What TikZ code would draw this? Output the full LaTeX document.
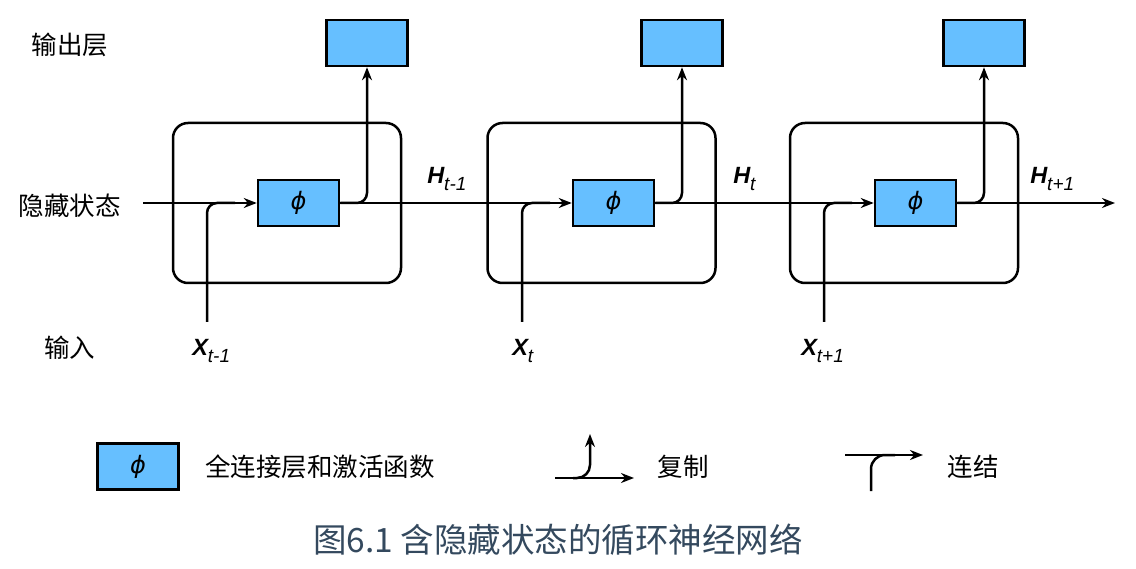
\documentclass[tikz,border=0pt]{standalone}
\usepackage{fontspec}
\usetikzlibrary{arrows.meta}
\newfontfamily\cjk{Noto Sans CJK SC}
\newfontfamily\ar{Liberation Sans}
\newfontfamily\djvfont{DejaVu Sans}
\definecolor{phiblue}{RGB}{102,191,255}
\definecolor{capcol}{RGB}{52,73,94}
\newcommand{\varlab}[2]{{\ar\bfseries\itshape\fontsize{23.5}{23.5}\selectfont #1}\raisebox{-7pt}{\ar\itshape\fontsize{19}{19}\selectfont #2}}
\newcommand{\phisym}{{\djvfont\itshape\fontsize{24}{24}\selectfont ϕ}}
\begin{document}
\begin{tikzpicture}[x=1pt,y=-1pt,line width=2.5pt,
  >={Stealth[length=13pt,width=10pt]},
  cell/.style={draw,rounded corners=15pt,line width=2.5pt,minimum width=228pt,minimum height=160pt,inner sep=0},
  phibox/.style={draw,fill=phiblue,minimum width=81pt,minimum height=46pt,inner sep=0,line width=2.5pt},
  cjklbl/.style={font=\cjk\fontsize{25.5}{25.5}\selectfont,inner sep=0},
  varl/.style={inner sep=0,anchor=base west}]
\useasboundingbox (0,0) rectangle (1136,569);
% cells
\node[cell] (c1) at (287,203) {};
\node[cell] (c2) at (601.5,203) {};
\node[cell] (c3) at (904,203) {};
% phi boxes
\node[phibox] (p1) at (298.5,203) {\phisym};
\node[phibox] (p2) at (613.5,203) {\phisym};
\node[phibox] (p3) at (915.5,203) {\phisym};
% output boxes
\node[phibox] (o1) at (367,43) {};
\node[phibox] (o2) at (682,43) {};
\node[phibox] (o3) at (984,43) {};
% hidden state line
\coordinate (hs) at (143,203);
\coordinate (he) at (1115,203);
\draw[->] (hs) -- (p1.west);
\draw[->] (p1.east) -- (p2.west);
\draw[->] (p2.east) -- (p3.west);
\draw[->] (p3.east) -- (he);
% copy to outputs
\draw[->,rounded corners=10pt] (p1.east) -- (o1.south |- p1.east) -- (o1.south);
\draw[->,rounded corners=10pt] (p2.east) -- (o2.south |- p2.east) -- (o2.south);
\draw[->,rounded corners=10pt] (p3.east) -- (o3.south |- p3.east) -- (o3.south);
% inputs joining
\coordinate (x1) at (207,322);
\coordinate (x2) at (522,322);
\coordinate (x3) at (824,322);
\coordinate (j1) at (235,203);
\coordinate (j2) at (550,203);
\coordinate (j3) at (852,203);
\draw[rounded corners=10pt] (x1) -- (x1 |- j1) -- (j1);
\draw[rounded corners=10pt] (x2) -- (x2 |- j2) -- (j2);
\draw[rounded corners=10pt] (x3) -- (x3 |- j3) -- (j3);
% variable labels
\node[varl] (h1) at (426,184) {\varlab{H}{t-1}};
\node[varl] (h2) at (732,184) {\varlab{H}{t}};
\node[varl] (h3) at (1029,184) {\varlab{H}{t+1}};
\node[varl] (xl1) at (191,356) {\varlab{X}{t-1}};
\node[varl] (xl2) at (511,356) {\varlab{X}{t}};
\node[varl] (xl3) at (800,356) {\varlab{X}{t+1}};
% left labels
\node[cjklbl] (lo) at (70,45) {输出层};
\node[cjklbl] (lh) at (70,206) {隐藏状态};
\node[cjklbl] (li) at (70,348) {输入};
% legend
\node[phibox] (lg) at (138,466.5) {\phisym};
\node[cjklbl,anchor=west] (lgt) at (204,467) {全连接层和激活函数};
\coordinate (ca) at (555,478);
\coordinate (cb) at (634,478);
\coordinate (cc) at (573,478);
\coordinate (cd) at (590,434);
\draw[->] (ca) -- (cb);
\draw[->,rounded corners=13pt] (cc) -- (cd |- cc) -- (cd);
\node[cjklbl] (lct) at (683,467) {复制};
\coordinate (ja) at (845,455);
\coordinate (jb) at (923,455);
\coordinate (jc) at (871,491);
\coordinate (jd) at (895,455);
\draw[->] (ja) -- (jb);
\draw[rounded corners=14pt] (jc) -- (jc |- ja) -- (jd);
\node[cjklbl] (ljt) at (973,467) {连结};
% caption
\node[inner sep=0,font=\cjk\fontsize{33.5}{33.5}\selectfont,text=capcol] (cap) at (558,540) {图6.1 含隐藏状态的循环神经网络};
\end{tikzpicture}
\end{document}
